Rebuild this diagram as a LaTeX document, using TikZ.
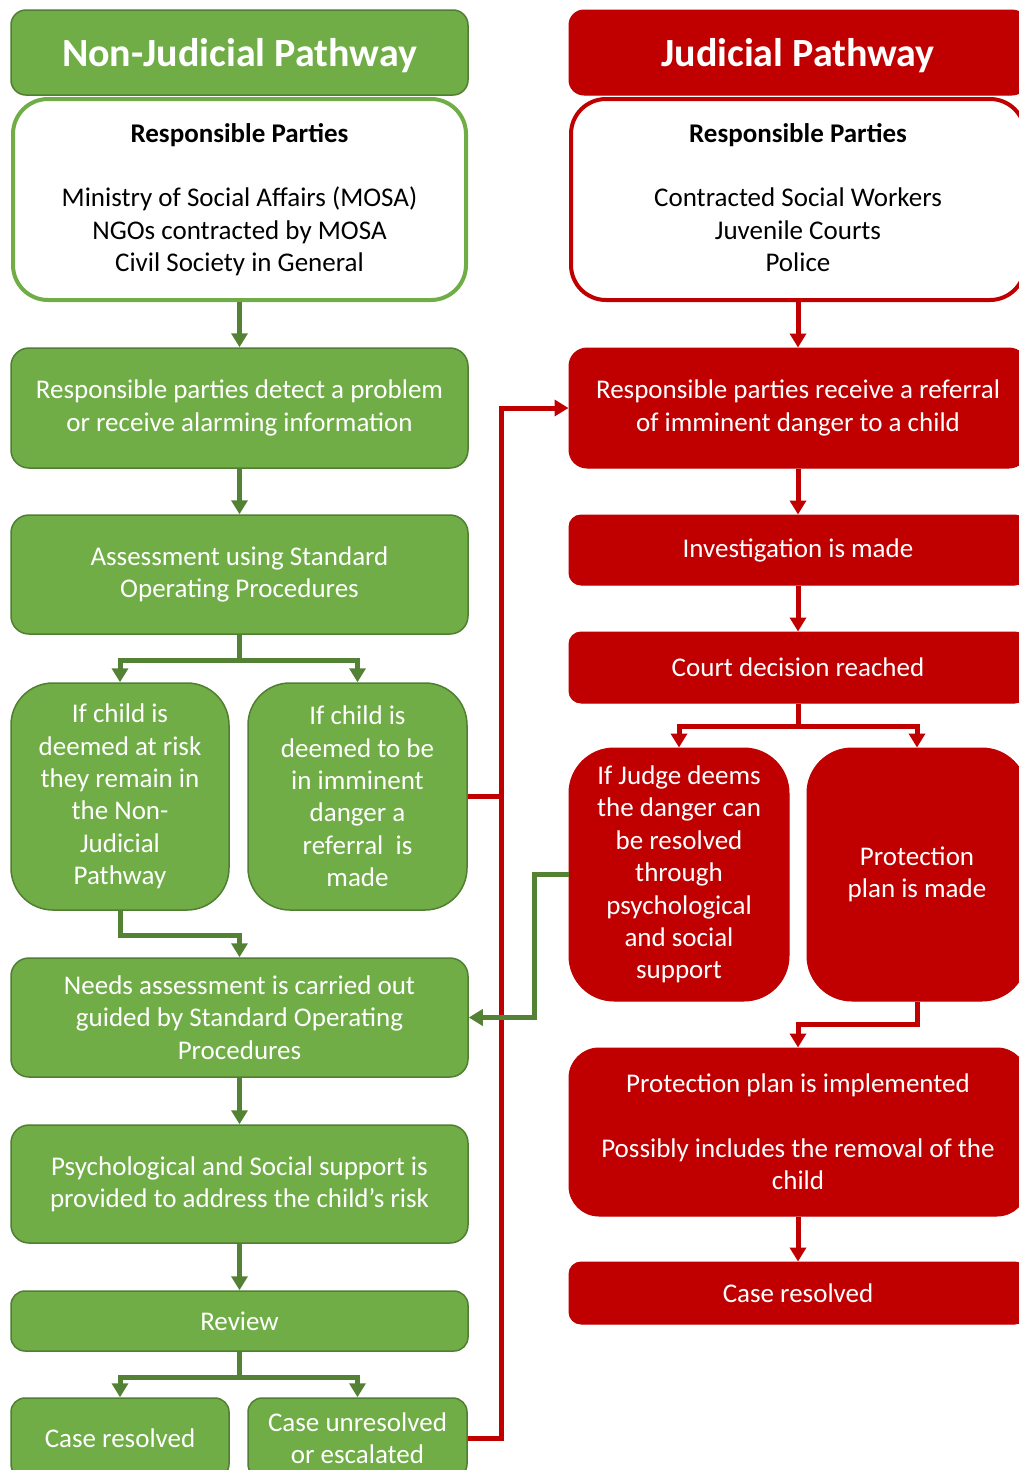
\documentclass[tikz,border=0pt]{standalone}
\usepackage{fontspec}
\setmainfont{Carlito}
\usetikzlibrary{arrows.meta}
\definecolor{gfill}{HTML}{70AD47}
\definecolor{gline}{HTML}{507E32}
\definecolor{garr}{HTML}{548235}
\definecolor{rfill}{HTML}{C00000}
\begin{document}
\begin{tikzpicture}[x=1pt,y=-1pt,
  base/.style={rectangle, align=center, inner sep=0pt, font=\fontsize{27}{32.4}\selectfont},
  gbox/.style={base, fill=gfill, draw=gline, line width=1.5pt, text=white, rounded corners=18pt},
  rbox/.style={base, fill=rfill, draw=rfill, line width=1pt, text=white, rounded corners=18pt},
  ghead/.style={gbox, rounded corners=15pt, font=\fontsize{40}{44}\selectfont\bfseries},
  rhead/.style={rbox, rounded corners=15pt, font=\fontsize{40}{44}\selectfont\bfseries},
  gwhite/.style={base, fill=white, draw=gfill, line width=4pt, text=black, rounded corners=35pt},
  rwhite/.style={base, fill=white, draw=rfill, line width=4pt, text=black, rounded corners=35pt},
  tip/.style={-{Triangle[width=16pt,length=14pt]}},
  garrow/.style={draw=garr, line width=5pt, tip},
  rarrow/.style={draw=rfill, line width=5pt, tip},
  rline/.style={draw=rfill, line width=5pt},
]
\useasboundingbox (0,0) rectangle (1019,1470);
\clip (0,0) rectangle (1019,1470);

% ---------- left column ----------
\node[ghead, minimum width=457pt, minimum height=85pt] (gh) at (239.5,52.5)
  {\raisebox{-3pt}[\height][\depth]{Non-Judicial Pathway}};
\node[gwhite, minimum width=453pt, minimum height=201pt] (gw) at (239.5,199.5)
  {\textbf{Responsible Parties}\\[32.4pt]Ministry of Social Affairs (MOSA)\\NGOs contracted by MOSA\\Civil Society in General};
\node[gbox, minimum width=457pt, minimum height=120pt] (g1) at (239.5,408)
  {Responsible parties detect a problem\\or receive alarming information};
\node[gbox, minimum width=457pt, minimum height=119pt] (g2) at (239.5,574.5)
  {Assessment using Standard\\Operating Procedures};
\node[gbox, rounded corners=42pt, minimum width=218pt, minimum height=227pt] (gA) at (120,796.5)
  {If child is\\deemed at risk\\they remain in\\the Non-\\Judicial\\Pathway};
\node[gbox, rounded corners=42pt, minimum width=219pt, minimum height=227pt] (gB) at (357.5,796.5)
  {If child is\\deemed to be\\in imminent\\danger a\\referral\ \ is\\made};
\node[gbox, minimum width=457pt, minimum height=119pt] (g5) at (239.5,1017.5)
  {Needs assessment is carried out\\guided by Standard Operating\\Procedures};
\node[gbox, minimum width=457pt, minimum height=118pt] (g6) at (239.5,1184)
  {Psychological and Social support is\\provided to address the child's risk};
\node[gbox, rounded corners=14pt, minimum width=457pt, minimum height=60pt] (g7) at (239.5,1321) {Review};
\node[gbox, rounded corners=14pt, minimum width=218pt, minimum height=80pt] (gR) at (120,1438) {Case resolved};
\node[gbox, rounded corners=14pt, minimum width=219pt, minimum height=80pt] (gU) at (357.5,1438)
  {Case unresolved\\or escalated};

% ---------- right column ----------
\node[rhead, minimum width=458pt, minimum height=85pt] (rh) at (798,52.5)
  {\raisebox{-3pt}[\height][\depth]{Judicial Pathway}};
\node[rwhite, minimum width=454pt, minimum height=201pt] (rw) at (798,199.5)
  {\textbf{Responsible Parties}\\[32.4pt]Contracted Social Workers\\Juvenile Courts\\Police\vphantom{y}};
\node[rbox, minimum width=458pt, minimum height=120pt] (r1) at (798,408)
  {Responsible parties receive a referral\\of imminent danger to a child};
\node[rbox, rounded corners=12pt, minimum width=458pt, minimum height=70pt] (r2) at (798,550) {Investigation is made};
\node[rbox, rounded corners=12pt, minimum width=458pt, minimum height=71pt] (r3) at (798,667.5) {Court decision reached};
\node[rbox, rounded corners=45pt, minimum width=220pt, minimum height=253pt] (rC) at (679,874.5)
  {If Judge deems\\the danger can\\be resolved\\through\\psychological\\and social\\support};
\node[rbox, rounded corners=45pt, minimum width=220pt, minimum height=253pt] (rD) at (917,874.5)
  {Protection\\plan is made};
\node[rbox, rounded corners=30pt, minimum width=458pt, minimum height=168pt] (r5) at (798,1132)
  {Protection plan is implemented\\[32.4pt]Possibly includes the removal of the\\child};
\node[rbox, rounded corners=12pt, minimum width=458pt, minimum height=62pt] (r6) at (798,1293) {Case resolved};

% ---------- left connectors ----------
\draw[garrow] (gw.south) -- (g1.north);
\draw[garrow] (g1.south) -- (g2.north);
\draw[garrow] (g2.south) -- ++(0,26) -| (gA.north);
\draw[garrow] (g2.south) -- ++(0,26) -| (gB.north);
\draw[garrow] (gA.south) -- ++(0,25) -| (g5.north);
\draw[garrow] (g5.south) -- (g6.north);
\draw[garrow] (g6.south) -- (g7.north);
\draw[garrow] (g7.south) -- ++(0,26) -| (gR.north);
\draw[garrow] (g7.south) -- ++(0,26) -| (gU.north);

% ---------- right connectors ----------
\draw[rarrow] (rw.south) -- (r1.north);
\draw[rarrow] (r1.south) -- (r2.north);
\draw[rarrow] (r2.south) -- (r3.north);
\draw[rarrow] (r3.south) -- ++(0,23) -| (rC.north);
\draw[rarrow] (r3.south) -- ++(0,23) -| (rD.north);
\draw[rarrow] (rD.south) -- ++(0,23) -| (r5.north);
\draw[rarrow] (r5.south) -- (r6.north);

% ---------- cross connectors ----------
\draw[rarrow] (gU.east) -- ++(34,0) |- (r1.west);
\draw[rline] (gB.east) -- ++(34,0);
\draw[garrow] (rC.west) -- ++(-34,0) |- (g5.east);
\end{tikzpicture}
\end{document}
